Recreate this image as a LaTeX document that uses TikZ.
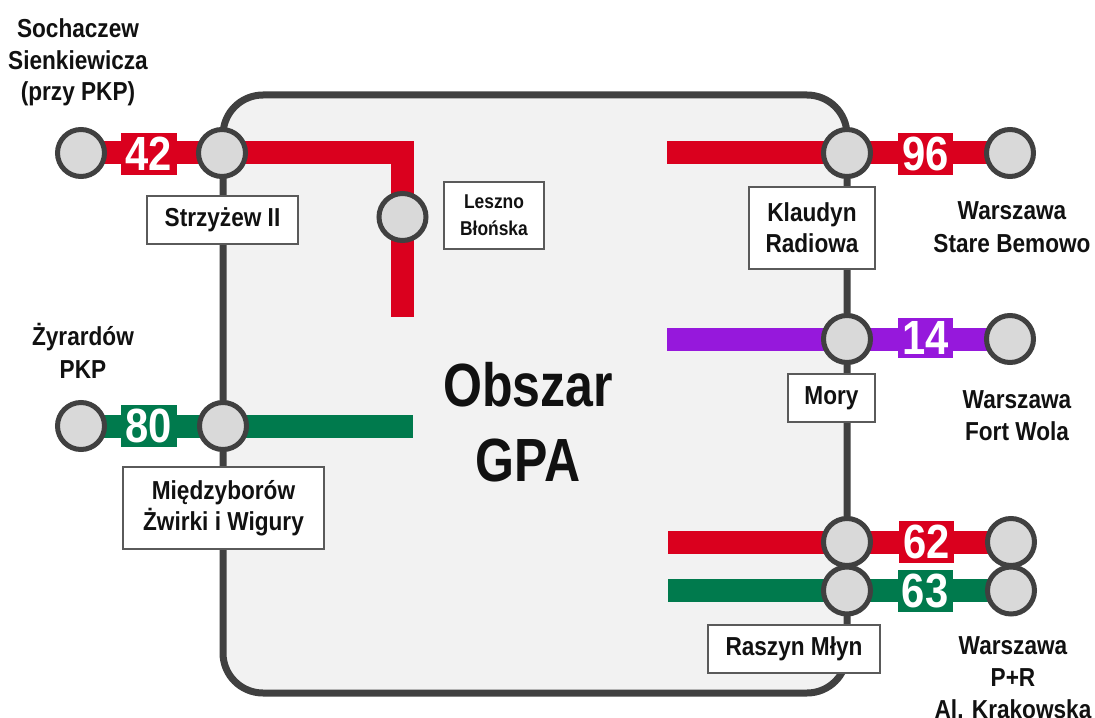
\documentclass[tikz,border=0pt]{standalone}
\usepackage{fontspec}
\newfontfamily\cf{Liberation Sans}[FakeStretch=0.87]
\newfontfamily\cfbig{Liberation Sans}[FakeStretch=0.82]
\definecolor{cred}{RGB}{218,0,30}
\definecolor{cgreen}{RGB}{0,122,77}
\definecolor{cpurple}{RGB}{150,24,220}
\definecolor{cgray}{RGB}{64,64,64}
\definecolor{cfill}{RGB}{217,217,217}
\definecolor{cbox}{RGB}{242,242,242}
\definecolor{cbord}{RGB}{90,90,90}
\definecolor{ctext}{RGB}{17,17,17}
\begin{document}
\begin{tikzpicture}[x=1bp,y=-1bp,
  area/.style={draw=cgray, fill=cbox, line width=7bp, rounded corners=40bp},
  route/.style={line width=23bp, line cap=butt, miter limit=10},
  stop/.style={circle, minimum size=47bp, inner sep=0pt, fill=cfill, draw=cgray, line width=5bp},
  numbox/.style={minimum width=56bp, minimum height=42bp, inner sep=0pt, text=white,
    font=\cf\bfseries\fontsize{48bp}{48bp}\selectfont},
  lbl/.style={draw=cbord, fill=white, line width=1.5bp, inner sep=0pt, align=center, text=ctext,
    font=\cf\bfseries\fontsize{26bp}{31bp}\selectfont},
  small/.style={font=\cf\bfseries\fontsize{20bp}{27bp}\selectfont},
  txt/.style={anchor=base, inner sep=0pt, text=ctext, font=\cf\bfseries\fontsize{26bp}{31bp}\selectfont},
  big/.style={anchor=base, inner sep=0pt, text=ctext, font=\cfbig\bfseries\fontsize{61bp}{74bp}\selectfont}
]
\fill[white] (0,0) rectangle (1095,718);
\clip (0,0) rectangle (1095,718);

% area
\coordinate (tl) at (223,95);
\coordinate (br) at (847,693);
\draw[area] (tl) rectangle (br);

% stop positions
\coordinate (pSo) at (81,153);
\coordinate (pSt) at (222,153);
\coordinate (pBend) at (402.5,153);
\coordinate (pLe) at (402.5,217);
\coordinate (pLeEnd) at (402.5,317);
\coordinate (pZy) at (81,426);
\coordinate (pMi) at (223,426);
\coordinate (pMiEnd) at (413,426);
\coordinate (p96s) at (667,153);
\coordinate (pKl) at (847,153);
\coordinate (pSB) at (1010,153);
\coordinate (p14s) at (667,339);
\coordinate (pMo) at (847,339);
\coordinate (pFW) at (1010,339);
\coordinate (p62s) at (668,542);
\coordinate (pR1) at (847,542);
\coordinate (pK1) at (1011,542);
\coordinate (p63s) at (668,590.5);
\coordinate (pR2) at (847,590.5);
\coordinate (pK2) at (1011,590.5);

% routes
\draw[route, cred] (pSo) -- (pSt) -- (pBend) -- (pLe) -- (pLeEnd);
\draw[route, cgreen] (pZy) -- (pMi) -- (pMiEnd);
\draw[route, cred] (p96s) -- (pKl) -- (pSB);
\draw[route, cpurple] (p14s) -- (pMo) -- (pFW);
\draw[route, cred] (p62s) -- (pR1) -- (pK1);
\draw[route, cgreen] (p63s) -- (pR2) -- (pK2);

% route numbers
\node[numbox, fill=cred] (n42) at (149,154) {42};
\node[numbox, fill=cgreen] (n80) at (149,426) {80};
\node[numbox, fill=cred, minimum width=55bp] (n96) at (925.5,154) {96};
\node[numbox, fill=cpurple, minimum width=55bp, minimum height=40bp] (n14) at (925.5,338) {14};
\node[numbox, fill=cred, minimum width=55bp] (n62) at (926.5,542) {62};
\node[numbox, fill=cgreen, minimum width=55bp] (n63) at (925,591) {63};

% stops
\node[stop] (So) at (pSo) {};
\node[stop] (St) at (pSt) {};
\node[stop] (Le) at (pLe) {};
\node[stop] (Zy) at (pZy) {};
\node[stop] (Mi) at (pMi) {};
\node[stop] (Kl) at (pKl) {};
\node[stop] (SB) at (pSB) {};
\node[stop] (Mo) at (pMo) {};
\node[stop] (FW) at (pFW) {};
\node[stop] (R1) at (pR1) {};
\node[stop] (R2) at (pR2) {};
\node[stop] (K1) at (pK1) {};
\node[stop] (K2) at (pK2) {};

% station label boxes
\node[lbl, minimum width=151bp, minimum height=48bp] (lSt) at (222.5,220) {Strzyżew II};
\node[lbl, small, minimum width=100bp, minimum height=67bp] (lLe) at (494,215.5) {Leszno\\Błońska};
\node[lbl, minimum width=126bp, minimum height=82bp] (lKl) at (812,228) {Klaudyn\\Radiowa};
\node[lbl, minimum width=87bp, minimum height=48bp] (lMo) at (831.5,398) {Mory};
\node[lbl, minimum width=172bp, minimum height=48bp] (lRa) at (794,649) {Raszyn Młyn};
\node[lbl, minimum width=201bp, minimum height=82bp] (lMi) at (223.5,508) {Międzyborów\\Żwirki i Wigury};

% terminus texts
\node[txt] (tSo1) at (78,38) {Sochaczew};
\node[txt] (tSo2) at (78,70) {Sienkiewicza};
\node[txt] (tSo3) at (78,101) {(przy PKP)};
\node[txt] (tZy1) at (83,345) {Żyrardów};
\node[txt] (tZy2) at (83,378) {PKP};
\node[txt] (tSB1) at (1012,219) {Warszawa};
\node[txt] (tSB2) at (1012,252) {Stare Bemowo};
\node[txt] (tFW1) at (1017,408) {Warszawa};
\node[txt] (tFW2) at (1017,440) {Fort Wola};
\node[txt] (tKr1) at (1013,654) {Warszawa};
\node[txt] (tKr2) at (1013,686) {P+R};
\node[txt] (tKr3) at (1013,718) {Al. Krakowska};

% area title
\node[big] (ob1) at (528,406) {Obszar};
\node[big] (ob2) at (528,481) {GPA};
\end{tikzpicture}
\end{document}
